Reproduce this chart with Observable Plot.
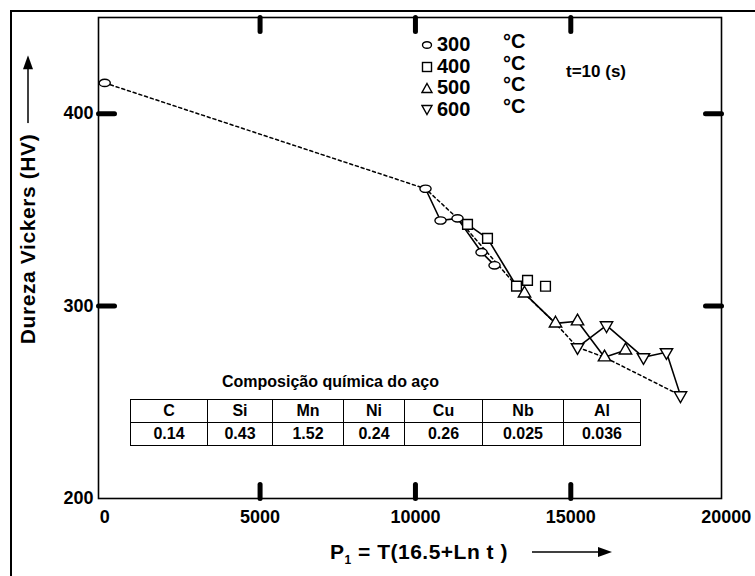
<!DOCTYPE html>
<html><head><meta charset="utf-8">
<script src="https://cdn.jsdelivr.net/npm/d3@7"></script>
<script src="https://cdn.jsdelivr.net/npm/@observablehq/plot@0.6"></script>
<style>
body{margin:0;background:#fff;}
#wrap{position:relative;width:755px;height:576px;overflow:hidden;font-family:"Liberation Sans",Arial,sans-serif;font-weight:bold;color:#000;}
#wrap > svg{position:absolute;left:0;top:0;}
.abs{position:absolute;white-space:nowrap;}
#border{position:absolute;left:10px;top:10px;width:800px;height:700px;border-left:2px solid #000;border-top:2px solid #000;}
table.comp{position:absolute;left:130px;top:399px;border-collapse:collapse;font-size:16px;}
table.comp td{border:1.3px solid #000;text-align:center;height:22px;padding:0;}
</style></head>
<body><div id="wrap"><div id="border"></div></div>
<script>
// ---- data ----
const s300x = [0, 10324, 10807, 11354, 12126, 12545];
const s300y = [416, 361, 344.5, 345.6, 328, 321.2];
const s400x = [11676, 12319, 13253, 13607, 14186];
const s400y = [342.5, 335.2, 310.4, 313.4, 310.3];
const s500x = [13510, 14508, 15216, 16085, 16760];
const s500y = [306.6, 291, 292.1, 273.4, 277];
const s600x = [15216, 16149, 17339, 18079, 18530];
const s600y = [278.6, 290, 273.4, 276, 253.6];
const trendX = [0, 10324, 11354, 13253, 14508, 15216, 16085, 18530];
const trendY = [416, 361, 345.6, 310.4, 291, 278.6, 273.4, 253.6];
const xTickLabels = [0, 5000, 10000, 15000, 20000];
const xMajor = [5000, 10000, 15000];
const yTickLabels = [200, 300, 400];
const yMajor = [300, 400];
const elements = ["C", "Si", "Mn", "Ni", "Cu", "Nb", "Al"];
const contents = ["0.14", "0.43", "1.52", "0.24", "0.26", "0.025", "0.036"];
const legendTemps = ["300", "400", "500", "600"];

const zip = (xs, ys) => xs.map((x, i) => ({x, y: ys[i]}));
const c300 = zip(s300x, s300y), c400 = zip(s400x, s400y), c500 = zip(s500x, s500y), c600 = zip(s600x, s600y);
const trend = zip(trendX, trendY);

const ellipse = {draw(ctx, size){const r=Math.sqrt(size/Math.PI);const rx=r*1.3,ry=r*0.85,k=0.5523;
  ctx.moveTo(rx,0);ctx.bezierCurveTo(rx,ry*k,rx*k,ry,0,ry);ctx.bezierCurveTo(-rx*k,ry,-rx,ry*k,-rx,0);
  ctx.bezierCurveTo(-rx,-ry*k,-rx*k,-ry,0,-ry);ctx.bezierCurveTo(rx*k,-ry,rx,-ry*k,rx,0);ctx.closePath();}};
const tick = {draw(ctx, l){ctx.moveTo(0,0);ctx.lineTo(0,-l);}};

const dotOpts = {x:"x", y:"y", fill:"white", stroke:"black", strokeWidth:1.4};
const lineOpts = {x:"x", y:"y", stroke:"black", strokeWidth:1.6};

const chart = Plot.plot({
  width: 755, height: 576,
  marginLeft: 98, marginRight: 34, marginTop: 17, marginBottom: 78,
  x: {domain: [-200, 19850], axis: null},
  y: {domain: [200, 450], axis: null},
  style: {fontFamily: "Liberation Sans, Arial, sans-serif", fontWeight: "bold", background: "transparent"},
  marks: [
    Plot.frame({stroke: "black", strokeWidth: 1.6}),
    Plot.vector(xMajor, {x: d => d, y: 200, length: 14, rotate: 0, anchor: "start", shape: tick, strokeWidth: 5, stroke: "black"}),
    Plot.vector(xMajor, {x: d => d, y: 450, length: 14, rotate: 180, anchor: "start", shape: tick, strokeWidth: 5, stroke: "black"}),
    Plot.vector(yMajor, {x: -200, y: d => d, length: 16, rotate: 90, anchor: "start", shape: tick, strokeWidth: 5, stroke: "black"}),
    Plot.vector(yMajor, {x: 19850, y: d => d, length: 16, rotate: -90, anchor: "start", shape: tick, strokeWidth: 5, stroke: "black"}),
    Plot.text(xTickLabels, {x: d => d, frameAnchor: "bottom", dy: 24, text: d => String(d), fontSize: 18}),
    Plot.text(yTickLabels, {y: d => d, frameAnchor: "left", dx: -5, textAnchor: "end", text: d => String(d), fontSize: 18}),
    Plot.line(trend, {x:"x", y:"y", stroke:"black", strokeWidth:1.5, strokeDasharray:"3,3"}),
    Plot.line(c300.slice(1), lineOpts),
    Plot.line(c400.slice(0, 3), lineOpts),
    Plot.line(c500, lineOpts),
    Plot.line(c600, lineOpts),
    Plot.dot(c300, {...dotOpts, symbol: ellipse, r: 4.3}),
    Plot.dot(c400, {...dotOpts, symbol: "square", r: 5.5}),
    Plot.dot(c500, {...dotOpts, symbol: "triangle", r: 4.6}),
    Plot.dot(c600, {...dotOpts, symbol: "triangle", rotate: 180, r: 4.6})
  ]
});
const wrap = document.getElementById("wrap");
wrap.appendChild(chart);

// legend
const sym = [
  '<ellipse cx="6" cy="7" rx="4.5" ry="3.3" fill="white" stroke="black" stroke-width="1.4"/>',
  '<rect x="1.5" y="2.5" width="9" height="9" fill="white" stroke="black" stroke-width="1.4"/>',
  '<path d="M6,2.5 L11,11.5 L1,11.5 Z" fill="white" stroke="black" stroke-width="1.4"/>',
  '<path d="M6,11.5 L11,2.5 L1,2.5 Z" fill="white" stroke="black" stroke-width="1.4"/>'
];
legendTemps.forEach((t, i) => {
  const d = document.createElement("div");
  d.className = "abs";
  d.style.left = "421px"; d.style.top = (33 + i * 21.5) + "px"; d.style.fontSize = "20px";
  d.innerHTML = `<svg width="14" height="14" style="vertical-align:-1px;margin-right:2px">${sym[i]}</svg>${t}<span style="position:absolute;left:82px;top:-3px">°C</span>`;
  wrap.appendChild(d);
});
const tt = document.createElement("div");
tt.className = "abs"; tt.style.left = "566px"; tt.style.top = "62px"; tt.style.fontSize = "17px";
tt.textContent = "t=10 (s)";
wrap.appendChild(tt);

// table
const cap = document.createElement("div");
cap.className = "abs"; cap.style.left = "222px"; cap.style.top = "373px"; cap.style.fontSize = "16px";
cap.textContent = "Composição química do aço";
wrap.appendChild(cap);
const colW = [76, 64, 70, 60, 77, 80, 76];
const tb = document.createElement("table");
tb.className = "comp";
tb.innerHTML = "<tr>" + elements.map((e, i) => `<td style="width:${colW[i]}px">${e}</td>`).join("") + "</tr>" +
  "<tr>" + contents.map(c => `<td>${c}</td>`).join("") + "</tr>";
wrap.appendChild(tb);

// axis titles
const yt = document.createElement("div");
yt.className = "abs";
yt.style.left = "28px"; yt.style.top = "200px"; yt.style.fontSize = "21px"; yt.style.letterSpacing = "0.6px";
yt.style.transform = "translate(-50%,-50%) rotate(-90deg)";
yt.innerHTML = 'Dureza Vickers (HV)<svg width="68" height="14" style="margin-left:10px;vertical-align:0px"><line x1="0" y1="7" x2="58" y2="7" stroke="black" stroke-width="1.5"/><path d="M68,7 L54,2 L54,12 Z" fill="black"/></svg>';
wrap.appendChild(yt);
const xt = document.createElement("div");
xt.className = "abs";
xt.style.left = "330px"; xt.style.top = "540px"; xt.style.fontSize = "21px"; xt.style.letterSpacing = "0.5px";
xt.innerHTML = 'P<sub style="font-size:12px">1</sub> = T(16.5+Ln t )<svg width="80" height="14" style="margin-left:24px;vertical-align:0px"><line x1="0" y1="7" x2="68" y2="7" stroke="black" stroke-width="1.5"/><path d="M80,7 L66,2 L66,12 Z" fill="black"/></svg>';
wrap.appendChild(xt);
</script></body></html>
